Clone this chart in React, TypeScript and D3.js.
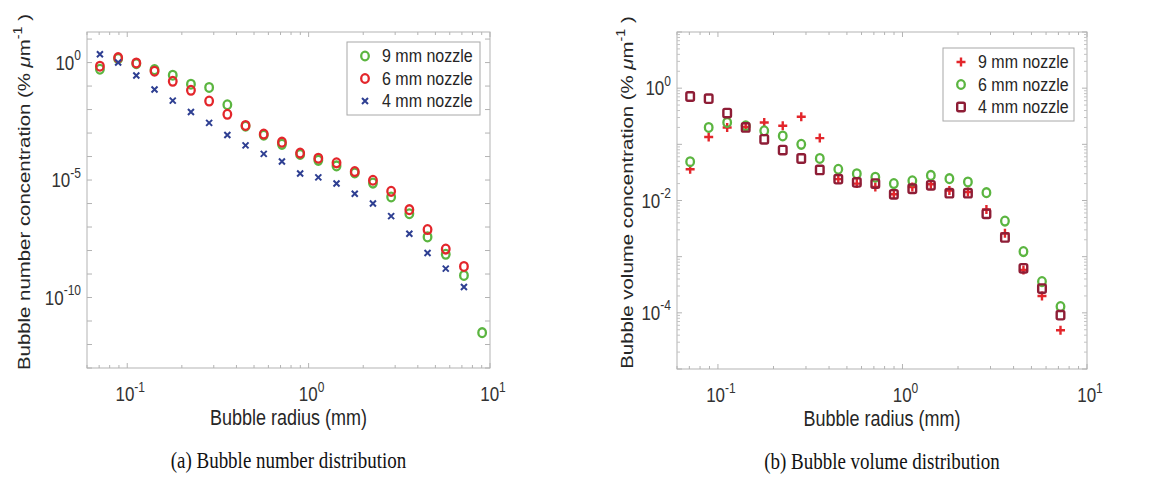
import React, { useEffect, useRef } from "react";
import * as d3 from "d3";

// bubble radius bins (mm)
const radii = [0.0707, 0.0891, 0.1122, 0.1414, 0.1782, 0.2245, 0.2828, 0.3564, 0.449, 0.5657, 0.7127,
  0.898, 1.131, 1.425, 1.796, 2.263, 2.851, 3.592, 4.525, 5.702, 7.184, 9.05];

// (a) number concentration
const num9mm = [0.52, 1.48, 0.9, 0.5, 0.29, 0.12, 0.087, 0.016, 1.95e-3, 8.1e-4, 3.3e-4, 1.23e-4, 6.9e-5,
  4.0e-5, 2.0e-5, 7.4e-6, 1.9e-6, 3.7e-7, 3.8e-8, 6.9e-9, 8.7e-10, 3.2e-12];
const num6mm = [0.7, 1.62, 0.96, 0.43, 0.16, 0.066, 0.023, 6.3e-3, 2.1e-3, 9.1e-4, 4.1e-4, 1.4e-4, 8.5e-5,
  5.4e-5, 2.3e-5, 9.8e-6, 3.3e-6, 5.5e-7, 7.8e-8, 1.15e-8, 2.1e-9];
const num4mm = [2.25, 1.0, 0.28, 0.071, 0.024, 7.9e-3, 2.7e-3, 8.3e-4, 3.0e-4, 1.3e-4, 6.2e-5, 1.9e-5, 1.3e-5,
  7.1e-6, 2.6e-6, 1.0e-6, 2.9e-7, 5.2e-8, 7.9e-9, 1.7e-9, 2.8e-10];

// (b) volume concentration
const vol9mm = [0.036, 0.135, 0.2, 0.204, 0.245, 0.214, 0.31, 0.129, 0.024, 0.02, 0.0174, 0.0129, 0.0174,
  0.0195, 0.0151, 0.0141, 6.9e-3, 2.6e-3, 5.8e-4, 2.0e-4, 4.9e-5];
const vol6mm = [0.049, 0.2, 0.245, 0.214, 0.174, 0.141, 0.1, 0.056, 0.036, 0.03, 0.026, 0.02, 0.0224,
  0.028, 0.0245, 0.0214, 0.0138, 4.3e-3, 1.23e-3, 3.6e-4, 1.29e-4];
const vol4mm = [0.71, 0.65, 0.36, 0.2, 0.123, 0.079, 0.056, 0.035, 0.024, 0.021, 0.02, 0.0129, 0.0162,
  0.0186, 0.0135, 0.0135, 5.8e-3, 2.2e-3, 6.2e-4, 2.7e-4, 9.1e-5];

const GREEN = "#5bb540";
const RED = "#e3262b";
const BLUE = "#2e3f92";
const DARKRED = "#8e1d36";
const FONT = "'Liberation Sans', Arial, sans-serif";
const STRETCH = 1.18; // the source figure is a bit taller than wide

type Series = { name: string; values: number[]; marker: string; color: string };

function drawMarker(g: any, marker: string, x: number, y: number, color: string) {
  if (marker === "circle") {
    g.append("ellipse").attr("cx", x).attr("cy", y).attr("rx", 3.8).attr("ry", 4.4)
      .attr("fill", "none").attr("stroke", color).attr("stroke-width", 2.3);
  } else if (marker === "x") {
    const s = 3;
    g.append("path").attr("d", `M${x - s},${y - s}L${x + s},${y + s}M${x - s},${y + s}L${x + s},${y - s}`)
      .attr("stroke", color).attr("stroke-width", 2);
  } else if (marker === "plus") {
    const s = 4.5;
    g.append("path").attr("d", `M${x - s},${y}L${x + s},${y}M${x},${y - s}L${x},${y + s}`)
      .attr("stroke", color).attr("stroke-width", 2.4);
  } else {
    g.append("rect").attr("x", x - 3.8).attr("y", y - 4.2).attr("width", 7.6).attr("height", 8.4)
      .attr("rx", 1.5).attr("fill", "none").attr("stroke", color).attr("stroke-width", 2.4);
  }
}

// text stretched vertically like the source picture
function tallText(g: any, x: number, y: number, size: number, anchor: string, color = "#333") {
  return g.append("text").attr("transform", `translate(${x},${y}) scale(1,${STRETCH})`)
    .attr("text-anchor", anchor).attr("font-family", FONT).attr("font-size", size).attr("fill", color);
}

function powLabel(sel: any, exp: number) {
  sel.append("tspan").text("10");
  sel.append("tspan").attr("dy", -8).attr("font-size", 12).text(String(exp));
}

function drawPanel(svg: any, opt: any) {
  const { left, right, top, bottom, yDomain, yLabelEvery, series, yTitle, caption, titleX, legend } = opt;
  const x = d3.scaleLog().domain([0.06, 10]).range([left, right]);
  const y = d3.scaleLog().domain(yDomain).range([bottom, top]);
  const g = svg.append("g");

  // box
  g.append("rect").attr("x", left).attr("y", top).attr("width", right - left).attr("height", bottom - top)
    .attr("fill", "white").attr("stroke", "#b3b3b3").attr("stroke-width", 1);

  // x ticks (inside, top and bottom)
  x.ticks().forEach((t: number) => {
    const major = Math.abs(Math.log10(t) - Math.round(Math.log10(t))) < 1e-6;
    const len = major ? 5 : 3;
    const px = x(t);
    g.append("line").attr("x1", px).attr("x2", px).attr("y1", bottom).attr("y2", bottom - len).attr("stroke", "#b3b3b3");
    g.append("line").attr("x1", px).attr("x2", px).attr("y1", top).attr("y2", top + len).attr("stroke", "#b3b3b3");
    if (major) {
      const tx = tallText(g, px + 3, bottom + 33, 17, "middle");
      powLabel(tx, Math.round(Math.log10(t)));
    }
  });

  // y ticks
  const [y0, y1] = yDomain.map((v: number) => Math.round(Math.log10(v)));
  for (let e = y0; e <= y1; e++) {
    const py = y(Math.pow(10, e));
    g.append("line").attr("x1", left).attr("x2", left + 5).attr("y1", py).attr("y2", py).attr("stroke", "#b3b3b3");
    g.append("line").attr("x1", right).attr("x2", right - 5).attr("y1", py).attr("y2", py).attr("stroke", "#b3b3b3");
    if (opt.yMinor && e < y1) {
      for (let k = 2; k < 10; k++) {
        const pm = y(k * Math.pow(10, e));
        g.append("line").attr("x1", left).attr("x2", left + 3).attr("y1", pm).attr("y2", pm).attr("stroke", "#c4c4c4");
        g.append("line").attr("x1", right).attr("x2", right - 3).attr("y1", pm).attr("y2", pm).attr("stroke", "#c4c4c4");
      }
    }
    if (e % yLabelEvery === 0 && e !== y0 && e !== y1) {
      const ty = tallText(g, left - 6, py + 7, 17, "end");
      powLabel(ty, e);
    }
  }

  // points
  series.forEach((s: Series) => {
    s.values.forEach((v: number, i: number) => {
      drawMarker(g, s.marker, x(radii[i]), y(v), s.color);
    });
  });

  // legend
  const { lx, ly, lw } = legend;
  const lh = 73;
  g.append("rect").attr("x", lx).attr("y", ly).attr("width", lw).attr("height", lh)
    .attr("fill", "white").attr("stroke", "#a8a8a8");
  series.forEach((s: Series, i: number) => {
    const cy = ly + 14 + i * 22.5;
    drawMarker(g, s.marker, lx + 18, cy, s.color);
    tallText(g, lx + 35, cy + 6, 16, "start", "#262626").text(s.name);
  });

  // axis titles
  const cx = (left + right) / 2;
  tallText(g, cx, bottom + 57, 18, "middle", "#262626").text("Bubble radius (mm)");

  const yt = g.append("text")
    .attr("transform", `translate(${titleX},${(top + bottom) / 2 - 8}) rotate(-90) scale(1.2,1)`)
    .attr("text-anchor", "middle").attr("font-family", FONT).attr("font-size", 17).attr("fill", "#262626");
  yt.append("tspan").text(yTitle + " (% ");
  yt.append("tspan").attr("font-style", "italic").text("\u03bc");
  yt.append("tspan").text("m");
  yt.append("tspan").attr("dy", -8).attr("font-size", 12).text("-1");
  yt.append("tspan").attr("dy", 8).text(" )");

  g.append("text").attr("transform", `translate(${cx},${bottom + 100}) scale(1,1.2)`)
    .attr("text-anchor", "middle")
    .attr("font-family", "'Liberation Serif', 'Times New Roman', serif").attr("font-size", 19)
    .attr("fill", "#111").text(caption);
}

export default function App() {
  const ref = useRef<SVGSVGElement>(null);
  useEffect(() => {
    const svg = d3.select(ref.current);
    svg.selectAll("*").remove();
    drawPanel(svg, {
      left: 87, right: 490, top: 32, bottom: 368,
      yDomain: [1e-13, 20], yLabelEvery: 5, yMinor: false,
      yTitle: "Bubble number concentration", caption: "(a) Bubble number distribution",
      titleX: 30, legend: { lx: 347, ly: 42, lw: 133 },
      series: [
        { name: "9 mm nozzle", values: num9mm, marker: "circle", color: GREEN },
        { name: "6 mm nozzle", values: num6mm, marker: "circle", color: RED },
        { name: "4 mm nozzle", values: num4mm, marker: "x", color: BLUE },
      ],
    });
    drawPanel(svg, {
      left: 677, right: 1087, top: 32, bottom: 369,
      yDomain: [1e-5, 10], yLabelEvery: 2, yMinor: true,
      yTitle: "Bubble volume concentration", caption: "(b) Bubble volume distribution",
      titleX: 633, legend: { lx: 943, ly: 48, lw: 131 },
      series: [
        { name: "9 mm nozzle", values: vol9mm, marker: "plus", color: RED },
        { name: "6 mm nozzle", values: vol6mm, marker: "circle", color: GREEN },
        { name: "4 mm nozzle", values: vol4mm, marker: "square", color: DARKRED },
      ],
    });
  }, []);
  return (
    <svg ref={ref} width={1161} height={480}
      style={{ position: "absolute", left: 0, top: 0, background: "white" }} />
  );
}
